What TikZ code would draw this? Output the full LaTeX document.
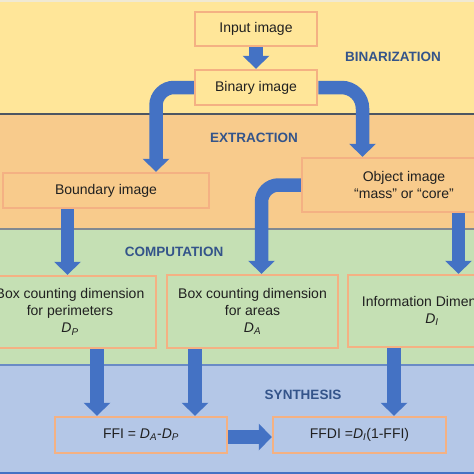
\documentclass[tikz,border=0pt]{standalone}
\usepackage{fontspec}
\setmainfont{Liberation Sans}
\usetikzlibrary{arrows.meta,calc}
\definecolor{bandA}{HTML}{FFE699}
\definecolor{bandB}{HTML}{F8CB8C}
\definecolor{bandC}{HTML}{C5E0B4}
\definecolor{bandD}{HTML}{B4C7E7}
\definecolor{boxline}{HTML}{F4B183}
\definecolor{arrowblue}{HTML}{4472C4}
\definecolor{labelblue}{HTML}{34548A}
\definecolor{sepdark}{HTML}{4D5662}
\definecolor{sepblue}{HTML}{6A8BC6}
\definecolor{txt}{HTML}{202020}
\newcommand\dsub[1]{\textit{D}\textsubscript{\textit{#1}}}
\begin{document}
\begin{tikzpicture}[x=1pt,y=-1pt,
  stagebox/.style={draw=boxline,line width=2.5pt,inner sep=0pt,align=center,
    font=\fontsize{14}{17}\selectfont,text=txt},
  stagelabel/.style={font=\fontsize{13.5}{16}\selectfont\bfseries,text=labelblue},
  blockarrow/.style={draw=arrowblue,line width=13.5pt,
    -{Triangle[width=27pt,length=13pt,line width=0pt]}}]
\useasboundingbox (0,0) rectangle (474,474);
% bands
\fill[color=bandA!70!gray!40] (0,0) rectangle (474,2);
\fill[bandA] (0,2) rectangle (474,114);
\fill[bandB] (0,114) rectangle (474,229);
\fill[bandC] (0,229) rectangle (474,365);
\fill[bandD] (0,365) rectangle (474,472);
\fill[arrowblue] (0,472) rectangle (474,474);
\draw[sepdark,line width=1.5pt] (0,114) -- (474,114);
\draw[sepdark!70,line width=1.2pt] (0,229) -- (474,229);
\draw[sepblue,line width=1.2pt] (0,365) -- (474,365);
% stage labels
\node[stagelabel] (lbin) at (393,57) {BINARIZATION};
\node[stagelabel] (lext) at (254,138) {EXTRACTION};
\node[stagelabel] (lcom) at (174,252) {COMPUTATION};
\node[stagelabel] (lsyn) at (303,395) {SYNTHESIS};
% boxes
\node[stagebox,minimum width=122pt,minimum height=34pt] (inp) at (256,29) {Input image};
\node[stagebox,minimum width=122pt,minimum height=35pt] (bin) at (256,87.5) {Binary image};
\node[stagebox,minimum width=206pt,minimum height=35pt] (bound) at (106,190.5) {Boundary image};
\node[stagebox,minimum width=204pt,minimum height=54pt] (obj) at (404,185) {Object image\\“mass” or “core”};
\node[stagebox,minimum width=172pt,minimum height=72pt] (perim) at (70,312) {Box counting dimension\\for perimeters\\\dsub{P}};
\node[stagebox,minimum width=171pt,minimum height=73pt] (areas) at (252.5,311.5) {Box counting dimension\\for areas\\\dsub{A}};
\node[stagebox,minimum width=168pt,minimum height=72pt] (info) at (432,311) {Information Dimension\\\dsub{I}};
\node[stagebox,minimum width=172pt,minimum height=36pt] (ffi) at (141,435) {FFI = \dsub{A}-\dsub{P}};
\node[stagebox,minimum width=173pt,minimum height=36pt] (ffdi) at (359.5,435) {FFDI =\dsub{I}(1-FFI)};
% arrows
\draw[blockarrow] (inp.south) -- (bin.north);
\draw[blockarrow,rounded corners=18pt] (bin.west) -| ([xshift=50pt]bound.north);
\draw[blockarrow,rounded corners=21pt] (bin.east) -| ([xshift=-41.5pt]obj.north);
\draw[blockarrow,rounded corners=17pt] (obj.west) -| ([xshift=9pt]areas.north);
\draw[blockarrow] ([xshift=54.5pt]obj.south) -- ([xshift=54.5pt]obj.south |- info.north);
\draw[blockarrow] ([xshift=-38.5pt]bound.south) -- ([xshift=-38.5pt]bound.south |- perim.north);
\draw[blockarrow] ([xshift=27pt]perim.south) -- ([xshift=27pt]perim.south |- ffi.north);
\draw[blockarrow] ([xshift=-57.5pt]areas.south) -- ([xshift=-57.5pt]areas.south |- ffi.north);
\draw[blockarrow] ([xshift=-38pt]info.south) -- ([xshift=-38pt]info.south |- ffdi.north);
\draw[blockarrow] ([yshift=-2pt]ffi.east) -- ([yshift=-2pt]ffdi.west);
\end{tikzpicture}
\end{document}
